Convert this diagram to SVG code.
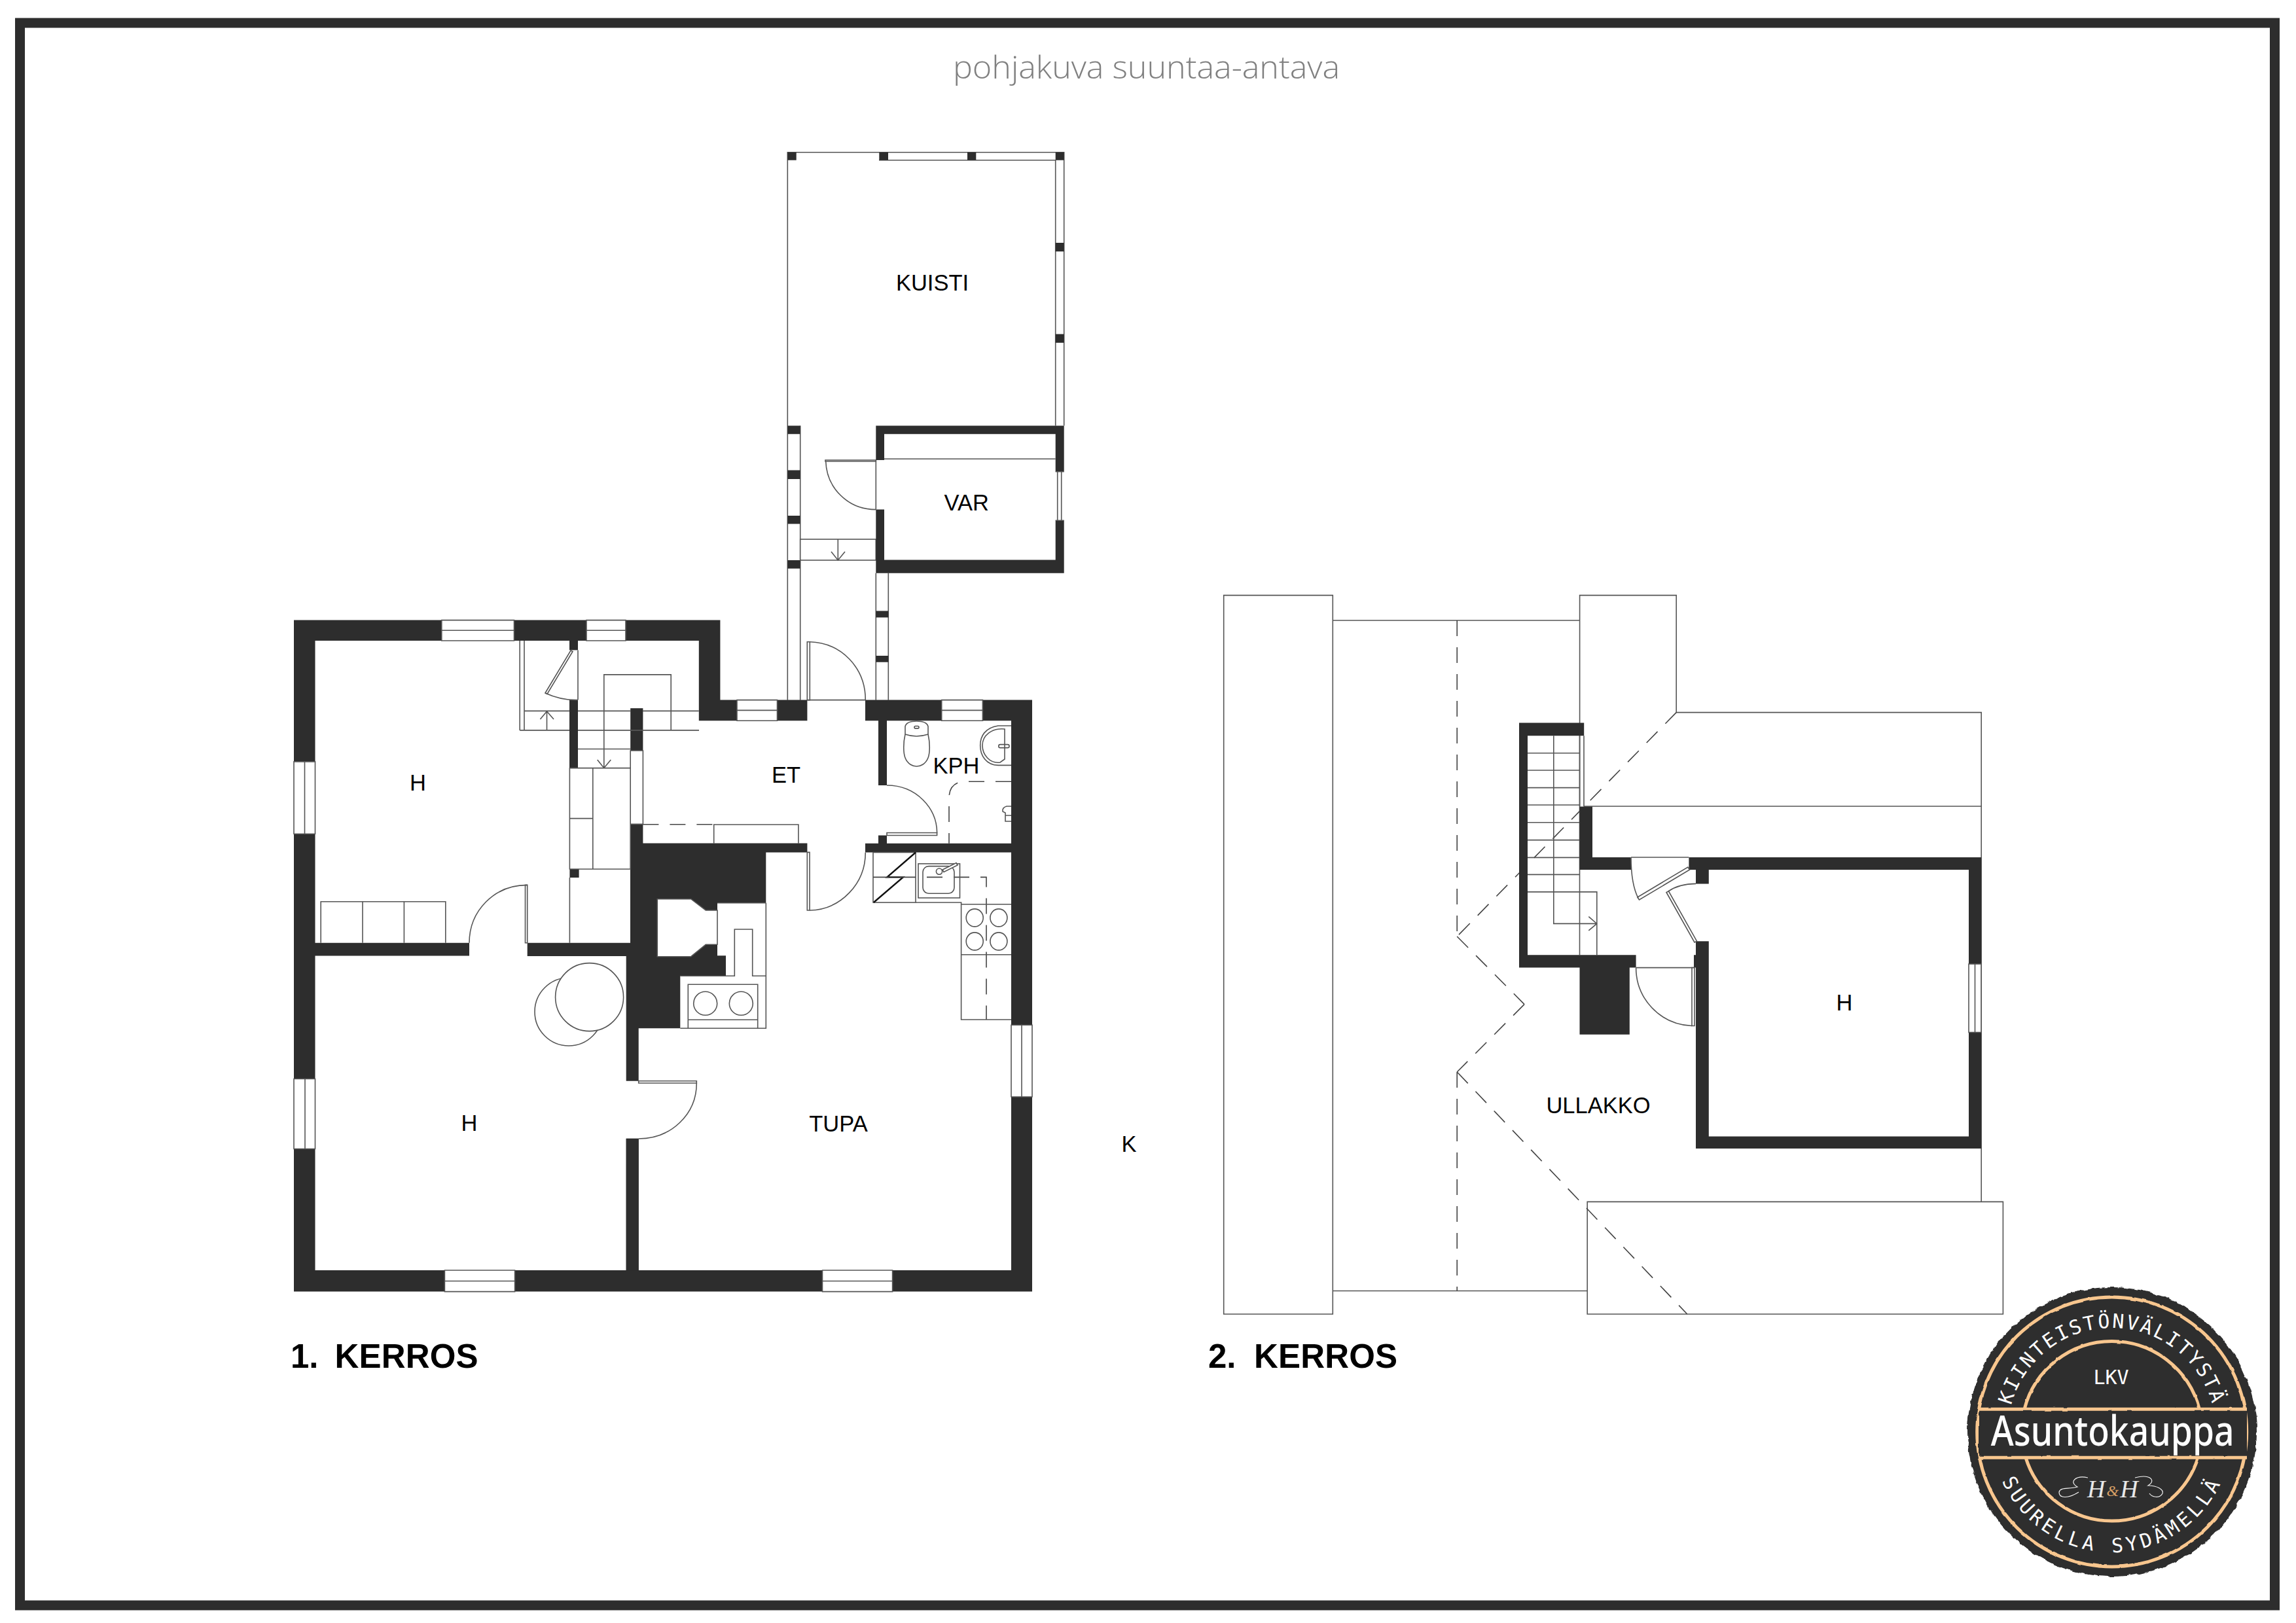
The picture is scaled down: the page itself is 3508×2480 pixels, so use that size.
<svg xmlns="http://www.w3.org/2000/svg" width="3508" height="2480" viewBox="0 0 3508 2480">
<style>
.w{fill:#2d2d2d;stroke:none}
.l{fill:none;stroke:#555;stroke-width:1.6}
.a{fill:#fff;stroke:#555;stroke-width:1.6}
.d{fill:none;stroke:#444;stroke-width:1.6;stroke-dasharray:24 17}
.t{font-family:"Liberation Sans",Arial,sans-serif;font-size:34.500px;fill:#000}
.h{font-family:"Liberation Sans",Arial,sans-serif;font-size:51px;font-weight:bold;fill:#000}
.m{font-family:"DejaVu Sans Mono",monospace;font-size:30px;fill:#fff}
.o{fill:none;stroke:#f8c68e;stroke-width:5}
.s{fill:none;stroke:#f2f2f2;stroke-width:1.2}
</style>
<defs>
<path id="arcTop" d="M3067.7,2188 A159,159 0 0 1 3385.7,2188"/>
<path id="arcBottom" d="M3042.7,2188 A184,184 0 0 0 3410.7,2188"/>
<filter id="rough" x="-5%" y="-5%" width="110%" height="110%">
<feTurbulence type="fractalNoise" baseFrequency="0.09" numOctaves="2" seed="4"/>
<feDisplacementMap in="SourceGraphic" scale="6" xChannelSelector="R" yChannelSelector="G"/>
</filter>
<filter id="rough2" x="-5%" y="-5%" width="110%" height="110%">
<feTurbulence type="fractalNoise" baseFrequency="0.06" numOctaves="2" seed="9"/>
<feDisplacementMap in="SourceGraphic" scale="2.500" xChannelSelector="R" yChannelSelector="G"/>
</filter>
</defs>
<rect width="3508" height="2480" fill="#fff"/>
<rect id="frame" x="30.500" y="35" width="3445" height="2418" fill="none" stroke="#2d2d2d" stroke-width="15"/>
<text id="title" x="1456" y="120" font-family="'Open Sans',sans-serif" font-size="48" font-weight="300" fill="#808080" textLength="591" lengthAdjust="spacingAndGlyphs">pohjakuva suuntaa-antava</text>

<g id="floor-1">
<g id="kuisti">
<path class="l" d="M1203.300,650.600V232.700H1625.700V650.600M1343,244.800H1612.700V650.600M1203.300,650.600V1069.700M1222.700,650.600V1069.700M1338.300,875.700V1069.700M1357.300,875.700V1069.700M1338.300,703V778.600"/>
<path class="w" d="M1203.300,232.700h13.400v12.100h-13.400zM1343.300,232.700h13.700v12.100h-13.700zM1478,232.700h13.300v12.100h-13.300zM1612.700,232.700h13v12.100h-13zM1612.700,371h13v13.300h-13zM1612.700,510.600h13v13.200h-13z"/>
<path class="w" d="M1203.300,650.600h19.400v12.700h-19.400zM1203.300,718.400h19.400v13.600h-19.400zM1203.300,788h19.400v12.500h-19.400zM1203.300,856h19.400v12.800h-19.400zM1338.300,933.600h19v9.800h-19zM1338.300,1002h19v9.700h-19z"/>
<rect class="a" x="1222.700" y="824" width="115.600" height="32"/>
<path class="l" d="M1280.300,824V856M1270,843L1280.300,856L1291,843"/>
<path class="a" d="M1261,703H1338.300V705H1261z"/>
<path class="l" d="M1261.700,705C1263,745 1295,778.600 1338.300,778.600"/>
<path class="a" d="M1233.300,980.700h4v89h-4z"/>
<path class="l" d="M1237,980.700C1285,982 1322.300,1020 1322.300,1069.700"/>
</g>
<g id="var">
<path class="w" d="M1338.300,650.600H1625.700V720.700H1612.700V663.300H1351V703H1338.300ZM1338.300,778.600H1351V855.600H1612.700V795.300H1625.700V875.700H1338.300Z"/>
<path class="l" d="M1351,701.200H1612.700M1615.700,720.700V795.300M1621.700,720.700V795.300M1612.700,720.700H1625.700M1612.700,795.300H1625.700"/>
</g>
<g id="walls-1">
<path class="w" d="M449,947.600H1100.400V1069.600H1233.400V1101.200H1067.800V979H481.500V1440.800H717V1460.600H481.500V1941H956.700V1461H805.700V1440.800H963V1288.500H1233.400V1302.400H1170.300V1379.700H1096V1460.300H1109V1491.300H1039.300V1571.300H975.700V1651.700H956.700V1941H975.700V1739.800H956.700V1941H1545V1302.500H1322V1288.800H1342V1276.500H1355V1288.800H1545V1101.200H1355V1200H1342V1101.200H1322V1069.600H1577V1973.600H449Z"/>
<path fill="#fff" d="M1004.300,1373.700H1055.700L1078.300,1391H1096V1443.300H1078.300L1055.700,1461.700H1004.300Z"/>
<path class="l" d="M1004.300,1373.700H1055.700L1078.300,1391H1096V1443.300H1078.300L1055.700,1461.700H1004.300Z"/>
<rect class="w" x="870" y="979" width="13" height="14.400"/>
<rect class="w" x="870" y="1069.600" width="13" height="104"/>
<rect class="w" x="963.200" y="1082.200" width="19.200" height="64.800"/>
<rect class="w" x="963.200" y="1259.400" width="19.200" height="30"/>
<rect class="w" x="870.400" y="1328" width="14.200" height="13"/>
<rect class="w" x="956.700" y="1739.800" width="19" height="202"/>
</g>
<g id="windows-1">
<path class="a" d="M674.800,947.600H785.500V979H674.800ZM896,947.600H956V979H896ZM449,1163.900H481.500V1274.200H449ZM449,1648.500H481.500V1755.500H449ZM679.400,1941H786.600V1973.600H679.400ZM1256.500,1941H1363.600V1973.600H1256.500ZM1545,1566.300H1577V1676H1545ZM1126,1069.600H1187.500V1101.200H1126ZM1438.700,1069.600H1501.400V1101.200H1438.700ZM963.200,1147H982.400V1259.400H963.200Z"/>
<path class="l" d="M674.800,963.300H785.500M896,963.300H956M465.500,1163.900V1274.200M466,1648.500V1755.500M679.400,1957.500H786.600M1256.500,1957.500H1363.600M1561,1566.300V1676M1126,1085.400H1187.500M1438.700,1085.400H1501.400M1233.400,1069.600H1322.200"/>
</g>
<g id="stairs-1">
<path class="l" d="M801,979V1116M794.200,979V1116M794.200,1115.900H870M883,1115.900H1068M801,1086.400H870M883,1086.400H963M982,1086.400H1067.800M922.800,1173.600V1030.900H1025.200V1116M883,993.400V1069.600M883,1144.500H963M835.500,1116V1087M825.400,1099L835.500,1087L846,1099M912.700,1161L922.800,1173.600L933.300,1161"/>
<path class="a" d="M870.400,1173.600H963.200V1328H870.400Z"/>
<path class="l" d="M905.800,1173.600V1328M870.400,1250.600H905.800M870.400,1341V1440.800"/>
<path class="a" d="M872,994L875,995.500L836,1060.500L833,1059Z"/>
<path class="l" d="M833,1059C848,1066 865,1070 883,1069.600"/>
</g>
<g id="furniture-1">
<path class="l" d="M490.200,1440.800V1377.700H680.800V1440.800M554,1377.700V1440.800M617.400,1377.700V1440.800"/>
<path class="a" d="M802.500,1352.400H805.700V1440.800H802.500Z"/>
<path class="l" d="M805.700,1352.400C755,1352.400 717,1392 717,1440.800"/>
<circle class="l" cx="869" cy="1546" r="52"/>
<circle class="a" cx="900.600" cy="1523.600" r="52"/>
<path class="a" d="M975.700,1651.700H1064.300V1655H975.700Z"/>
<path class="l" d="M1064.300,1655C1064.300,1703 1025,1740 975.700,1740"/>
<path class="l" d="M1170.300,1379.700V1571.300H1039.300M1096,1379.700H1170.300M1109,1491.300H1122.300V1420H1149.700V1491.300H1170.300M1051.300,1571.300V1504.300H1157.700V1571.300M1051.300,1558.300H1157.700"/>
<circle class="l" cx="1077.700" cy="1533.300" r="18"/>
<circle class="l" cx="1132.300" cy="1533.300" r="18"/>
<path class="l" d="M1039.300,1491.300H1109"/>
<path class="a" d="M1233.300,1302.400H1237V1391H1233.300Z"/>
<path class="l" d="M1237,1391C1285,1390 1322.300,1350 1322.300,1302.400"/>
<path class="d" d="M982.400,1259.800H1090.700"/>
<path class="l" d="M1090.700,1288.800V1260H1219.900V1288.800"/>
</g>
<g id="kitchen">
<rect class="l" x="1334" y="1302.500" width="65" height="76.500"/>
<path fill="none" stroke="#111" stroke-width="2.400" d="M1399,1302.500L1355.400,1340.400H1379.800L1334.800,1379"/>
<path class="d" d="M1334,1340.400H1507V1558"/>
<path class="l" d="M1399,1379H1468.600V1558H1545M1468.600,1381.800H1545M1468.600,1458.700H1545"/>
<rect class="l" x="1403" y="1319.800" width="63.500" height="52.200"/>
<rect class="l" x="1410" y="1323.600" width="48" height="41.700" rx="9"/>
<circle class="a" cx="1435" cy="1331.600" r="4.600"/>
<path class="a" d="M1440,1329L1461,1318.500L1463,1322L1442,1332.500Z"/>
<ellipse class="l" cx="1489.200" cy="1402.400" rx="13" ry="13.500"/>
<ellipse class="l" cx="1525.900" cy="1402.400" rx="13" ry="13.500"/>
<ellipse class="l" cx="1489.200" cy="1438.400" rx="13" ry="13.500"/>
<ellipse class="l" cx="1525.900" cy="1438.400" rx="13" ry="13.500"/>
</g>
<g id="kph">
<path class="l" d="M1383,1122C1380,1135 1380,1150 1383,1158C1387,1168 1395,1171 1400.400,1171C1406,1171 1414,1168 1418,1158C1421,1150 1421,1135 1418,1122"/>
<path class="l" d="M1383,1122V1110Q1385,1102 1400.400,1102Q1416,1102 1418,1110V1122Q1400,1128 1383,1122Z"/>
<rect class="l" x="1397" y="1109.500" width="7" height="3.600" rx="1.800"/>
<path class="l" d="M1545,1109H1525C1505,1112 1497.700,1125 1497.700,1139C1497.700,1155 1507,1169 1525,1169.400H1545"/>
<path class="l" d="M1535,1114C1515,1112 1501,1124 1501,1139C1501,1153 1512,1167 1528,1165L1535,1160V1114Z"/>
<rect class="l" x="1525.800" y="1137.600" width="16.200" height="5" rx="2.400"/>
<path class="d" d="M1545,1194.200H1472.400Q1450,1196 1450,1220V1288.800"/>
<path class="l" d="M1545,1232H1538Q1531,1234 1532,1240L1536,1242V1255H1545M1536,1246H1545"/>
<path class="l" d="M1355,1200C1400,1200 1431.600,1235 1431.600,1272.700"/>
<path class="a" d="M1355,1272.500H1431.600V1276.500H1355Z"/>
</g>
<text class="t" x="638.500" y="1208" text-anchor="middle">H</text>
<text class="t" x="717" y="1728" text-anchor="middle">H</text>
<text class="t" x="1201" y="1196" text-anchor="middle">ET</text>
<text class="t" x="1461" y="1182" text-anchor="middle">KPH</text>
<text class="t" x="1424.500" y="444" text-anchor="middle">KUISTI</text>
<text class="t" x="1476.700" y="780" text-anchor="middle">VAR</text>
<text class="t" x="1281" y="1729" text-anchor="middle">TUPA</text>
<text class="t" x="1725" y="1760" text-anchor="middle">K</text>
<text class="h" x="444" y="2090">1.<tspan x="511.500" textLength="219">KERROS</tspan></text>
</g>

<g id="floor-2">
<g id="roof">
<path class="l" d="M1869.700,909.600H2036.300V2008H1869.700ZM2036.300,948H2413.600M2413.600,1232V909.600H2561.200V1088.600H3027.200V1836.400M2420,1232H3027.200M2036.300,1972.500H2425.200M2425.200,1836.400H3060.400V2008H2425.200Z"/>
<path class="d" d="M2226.200,948V1431M2226.200,1638V1972.500M2561.200,1088.600L2226.200,1431M2226.200,1431L2329,1534.600M2329,1534.600L2226.200,1638M2226.200,1638L2577.800,2008"/>
</g>
<g id="stairs-2">
<path class="l" d="M2413.500,1124.300V1459.300M2420,1124.300V1232.500M2334,1150.700H2413.500M2334,1177H2413.500M2334,1203.600H2413.500M2334,1230H2413.500M2334,1256.800H2413.500M2334,1283.600H2413.500M2334,1310.400H2413.500M2334,1336.400H2413.500M2334,1362.900H2439.800V1459.300M2373.800,1124.300V1411.400H2439.800M2427.300,1400.700L2439.800,1411.400L2427.300,1421.800"/>
</g>
<g id="walls-2">
<path class="w" d="M2321,1104.600H2420.200V1124.300H2334V1459.300H2499.600V1478.600H2489.800V1580.700H2413.500V1478.600H2321Z"/>
<path class="w" d="M2413.500,1232.500H2433V1310H2492V1329H2413.500Z"/>
<path class="w" d="M2580.400,1310H3027V1755H2591V1478.600H2588V1459.300H2591V1438.200H2610.800V1736.500H3008V1329H2610.800V1350.400H2591V1329H2580.400Z"/>
<rect class="a" x="3008" y="1473" width="19" height="104.500"/>
<path class="l" d="M3017.500,1473V1577.500"/>
</g>
<g id="doors-2">
<path class="l" d="M2492,1310H2580.400M2499.600,1478.600H2588"/>
<path class="a" d="M2578.800,1325L2581.500,1329L2504.500,1375L2501.800,1371Z"/>
<path class="l" d="M2503.200,1372.900C2494,1355 2492,1333 2492,1310"/>
<path class="a" d="M2592.500,1438.200L2589,1440L2546,1363.500L2549.500,1361.800Z"/>
<path class="l" d="M2548.800,1362C2562,1353 2575,1350.400 2591,1350.400"/>
<path class="a" d="M2585,1478.600H2589V1567.500H2585Z"/>
<path class="l" d="M2585,1567.500C2535,1565 2499.600,1525 2499.600,1478.600"/>
</g>
<text class="t" x="2818" y="1543.500" text-anchor="middle">H</text>
<text class="t" x="2442" y="1701" text-anchor="middle">ULLAKKO</text>
<text class="h" x="1846" y="2090">2.<tspan x="1916" textLength="219">KERROS</tspan></text>
</g>

<g id="logo">
<circle cx="3227" cy="2188" r="221" fill="#2d2d2d" filter="url(#rough)"/>
<g filter="url(#rough2)">
<circle class="o" cx="3226.700" cy="2188" r="206"/>
<rect x="3023" y="2153.300" width="410" height="74" fill="#2d2d2d"/>
<path class="o" d="M3023,2153.300H3433M3023,2227.300H3433M3093,2153.300A138,138 0 0 1 3360.400,2153.300M3095,2227.300A138,138 0 0 0 3358.400,2227.300"/>
</g>
<text class="m" letter-spacing="2.800"><textPath href="#arcTop" startOffset="50%" text-anchor="middle">KIINTEISTÖNVÄLITYSTÄ</textPath></text>
<text class="m" letter-spacing="5.500"><textPath href="#arcBottom" startOffset="50%" text-anchor="middle">SUURELLA SYDÄMELLÄ</textPath></text>
<text class="m" x="3225.500" y="2115" text-anchor="middle">LKV</text>
<text x="3041.700" y="2209.300" font-family="'Noto Sans',sans-serif" font-size="64" font-weight="500" fill="#fff" textLength="372" lengthAdjust="spacingAndGlyphs">Asuntokauppa</text>
<text x="3189" y="2288" font-family="'Liberation Serif',serif" font-style="italic" font-size="38" fill="#e8e8e8">H<tspan fill="#d9a066" font-size="24" dx="2" dy="-2">&amp;</tspan><tspan dx="2" dy="2">H</tspan></text>
<path class="s" d="M3190,2258C3172,2254 3160,2264 3174,2272C3160,2276 3148,2272 3146,2280C3146,2290 3160,2290 3176,2280M3262,2258C3285,2252 3295,2262 3282,2270C3296,2270 3306,2276 3304,2282C3300,2290 3288,2288 3284,2282"/>
</g>
</svg>
